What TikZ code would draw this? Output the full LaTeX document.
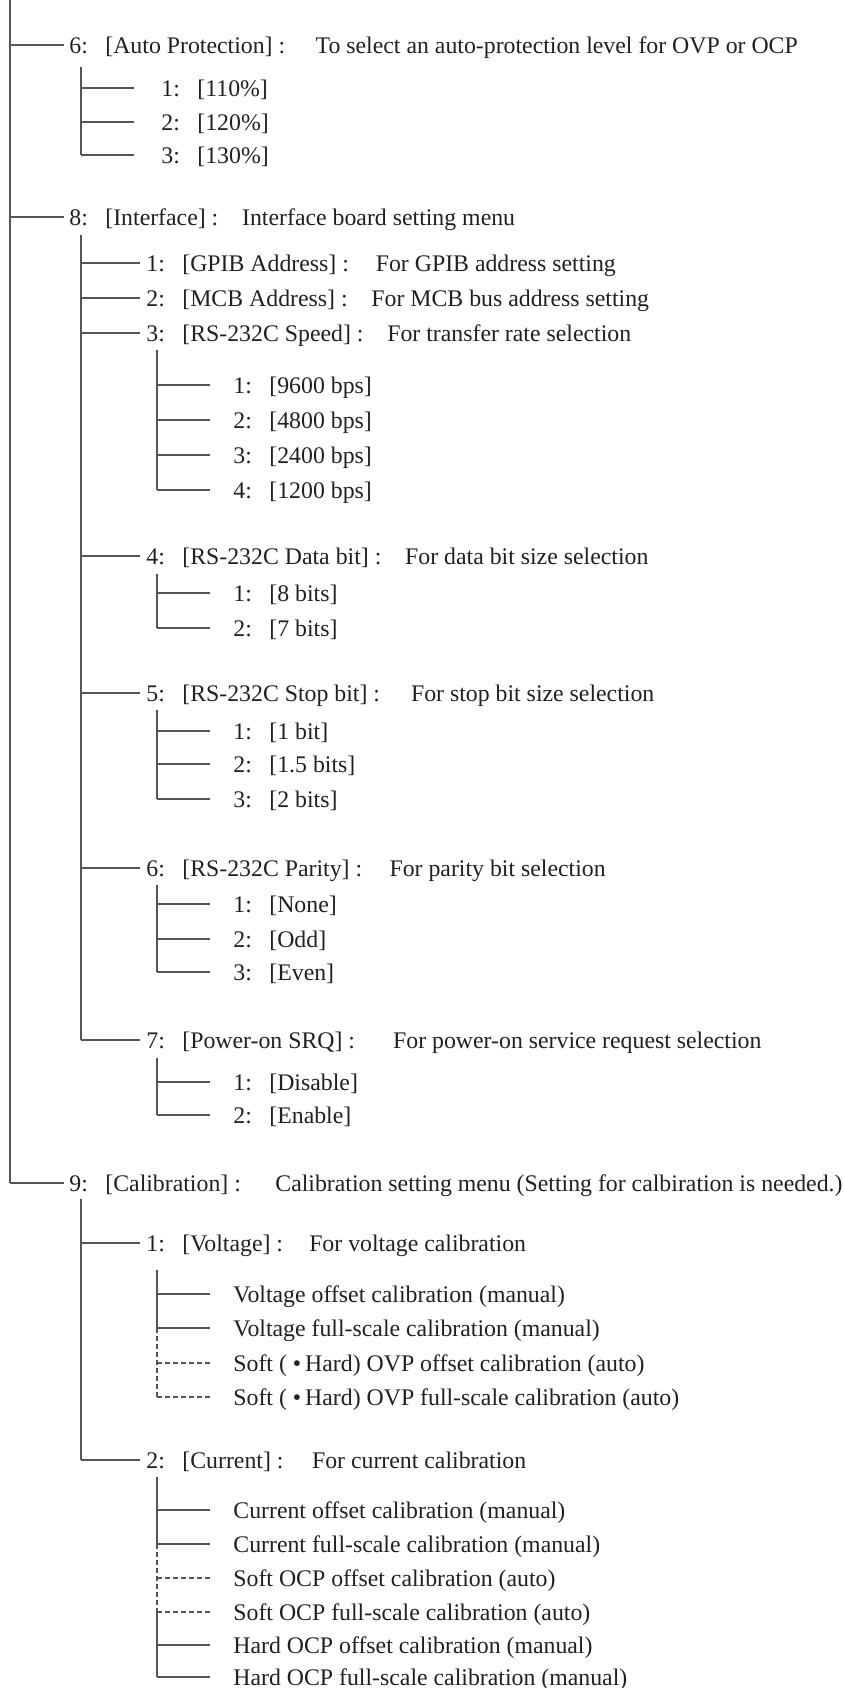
\documentclass[tikz,border=0pt]{standalone}
\usepackage{fontspec}
\setmainfont{Liberation Serif}
\definecolor{linec}{HTML}{555555}
\definecolor{txtc}{HTML}{231F20}
\newcommand{\mnum}[1]{\makebox[18pt][l]{#1}}
\newcommand{\desc}[1][1em]{\hspace{#1}}
\begin{document}
\begin{tikzpicture}[x=0.5pt,y=-0.5pt,
  conn/.style={draw=linec,line width=0.6pt},
  dconn/.style={conn,dash pattern=on 2.5pt off 1.5pt},
  lbl/.style={anchor=west,inner sep=0pt,text=txtc,font=\fontsize{11.9}{14}\selectfont,text height=8pt,text depth=0pt}]
\useasboundingbox (0,0) rectangle (845,1688);
% root
\coordinate (r) at (10,0);
% level 1
\node[lbl] (a6) at (69,45) {\mnum{6:}[Auto Protection] :\desc[1.28em]To select an auto-protection level for OVP or OCP};
\coordinate (a6v) at (81,67);
\node[lbl] (a61) at (161,88) {\mnum{1:}[110\%]};
\node[lbl] (a62) at (161,122) {\mnum{2:}[120\%]};
\node[lbl] (a63) at (161,155) {\mnum{3:}[130\%]};

\node[lbl] (a8) at (69,217) {\mnum{8:}[Interface] :\desc Interface board setting menu};
\coordinate (a8v) at (81,235);
\node[lbl] (b1) at (146,263) {\mnum{1:}[GPIB Address] :\desc[1.13em]For GPIB address setting};
\node[lbl] (b2) at (146,298) {\mnum{2:}[MCB Address] :\desc For MCB bus address setting};
\node[lbl] (b3) at (146,333) {\mnum{3:}[RS-232C Speed] :\desc For transfer rate selection};
\coordinate (b3v) at (157,350);
\node[lbl] (b31) at (233,385) {\mnum{1:}[9600 bps]};
\node[lbl] (b32) at (233,420) {\mnum{2:}[4800 bps]};
\node[lbl] (b33) at (233,455) {\mnum{3:}[2400 bps]};
\node[lbl] (b34) at (233,490) {\mnum{4:}[1200 bps]};
\node[lbl] (b4) at (146,556) {\mnum{4:}[RS-232C Data bit] :\desc For data bit size selection};
\coordinate (b4v) at (157,574);
\node[lbl] (b41) at (233,593) {\mnum{1:}[8 bits]};
\node[lbl] (b42) at (233,628) {\mnum{2:}[7 bits]};
\node[lbl] (b5) at (146,693) {\mnum{5:}[RS-232C Stop bit] :\desc[1.3em]For stop bit size selection};
\coordinate (b5v) at (157,710);
\node[lbl] (b51) at (233,731) {\mnum{1:}[1 bit]};
\node[lbl] (b52) at (233,764) {\mnum{2:}[1.5 bits]};
\node[lbl] (b53) at (233,799) {\mnum{3:}[2 bits]};
\node[lbl] (b6) at (146,868) {\mnum{6:}[RS-232C Parity] :\desc[1.15em]For parity bit selection};
\coordinate (b6v) at (157,885);
\node[lbl] (b61) at (233,904) {\mnum{1:}[None]};
\node[lbl] (b62) at (233,939) {\mnum{2:}[Odd]};
\node[lbl] (b63) at (233,972) {\mnum{3:}[Even]};
\node[lbl] (b7) at (146,1040) {\mnum{7:}[Power-on SRQ] :\desc[1.6em]For power-on service request selection};
\coordinate (b7v) at (157,1058);
\node[lbl] (b71) at (233,1082) {\mnum{1:}[Disable]};
\node[lbl] (b72) at (233,1115) {\mnum{2:}[Enable]};

\node[lbl] (a9) at (69,1183) {\mnum{9:}[Calibration] :\desc[1.45em]Calibration setting menu (Setting for calbiration is needed.)};
\coordinate (a9v) at (81,1199);
\node[lbl] (c1) at (146,1243) {\mnum{1:}[Voltage] :\desc[1.1em]For voltage calibration};
\coordinate (c1v) at (157,1270);
\node[lbl] (c11) at (233,1294) {Voltage offset calibration (manual)};
\node[lbl] (c12) at (233,1328) {Voltage full-scale calibration (manual)};
\node[lbl] (c13) at (233,1363) {Soft ( •\,Hard) OVP offset calibration (auto)};
\node[lbl] (c14) at (233,1397) {Soft ( •\,Hard) OVP full-scale calibration (auto)};
\node[lbl] (c2) at (146,1460) {\mnum{2:}[Current] :\desc[1.2em]For current calibration};
\coordinate (c2v) at (157,1477);
\node[lbl] (c21) at (233,1510) {Current offset calibration (manual)};
\node[lbl] (c22) at (233,1544) {Current full-scale calibration (manual)};
\node[lbl] (c23) at (233,1578) {Soft OCP offset calibration (auto)};
\node[lbl] (c24) at (233,1612) {Soft OCP full-scale calibration (auto)};
\node[lbl] (c25) at (233,1645) {Hard OCP offset calibration (manual)};
\node[lbl] (c26) at (233,1677) {Hard OCP full-scale calibration (manual)};

% connectors
\draw[conn] (r) -- (r |- a9.west);
\foreach \n in {a6,a8,a9} \draw[conn] (r |- \n.west) -- ([xshift=-2.5pt]\n.west);

\draw[conn] (a6v) -- (a6v |- a63.west);
\foreach \n in {a61,a62,a63} \draw[conn] (a6v |- \n.west) -- ++(53,0);

\draw[conn] (a8v) -- (a8v |- b7.west);
\foreach \n in {b1,b2,b3,b4,b5,b6,b7} \draw[conn] (a8v |- \n.west) -- ([xshift=-3pt]\n.west);

\draw[conn] (b3v) -- (b3v |- b34.west);
\foreach \n in {b31,b32,b33,b34} \draw[conn] (b3v |- \n.west) -- ++(53,0);
\draw[conn] (b4v) -- (b4v |- b42.west);
\foreach \n in {b41,b42} \draw[conn] (b4v |- \n.west) -- ++(53,0);
\draw[conn] (b5v) -- (b5v |- b53.west);
\foreach \n in {b51,b52,b53} \draw[conn] (b5v |- \n.west) -- ++(53,0);
\draw[conn] (b6v) -- (b6v |- b63.west);
\foreach \n in {b61,b62,b63} \draw[conn] (b6v |- \n.west) -- ++(53,0);
\draw[conn] (b7v) -- (b7v |- b72.west);
\foreach \n in {b71,b72} \draw[conn] (b7v |- \n.west) -- ++(53,0);

\draw[conn] (a9v) -- (a9v |- c2.west);
\foreach \n in {c1,c2} \draw[conn] (a9v |- \n.west) -- ([xshift=-3pt]\n.west);

\draw[conn] (c1v) -- (c1v |- c12.west);
\draw[dconn] (c1v |- c12.west) -- (c1v |- c14.west);
\foreach \n in {c11,c12} \draw[conn] (c1v |- \n.west) -- ++(53,0);
\foreach \n in {c13,c14} \draw[dconn] (c1v |- \n.west) -- ++(53,0);

\draw[conn] (c2v) -- (c2v |- c22.west);
\draw[dconn] (c2v |- c22.west) -- (c2v |- c24.west);
\draw[conn] (c2v |- c24.west) -- (c2v |- c26.west);
\foreach \n in {c21,c22,c25,c26} \draw[conn] (c2v |- \n.west) -- ++(53,0);
\foreach \n in {c23,c24} \draw[dconn] (c2v |- \n.west) -- ++(53,0);
\end{tikzpicture}
\end{document}
